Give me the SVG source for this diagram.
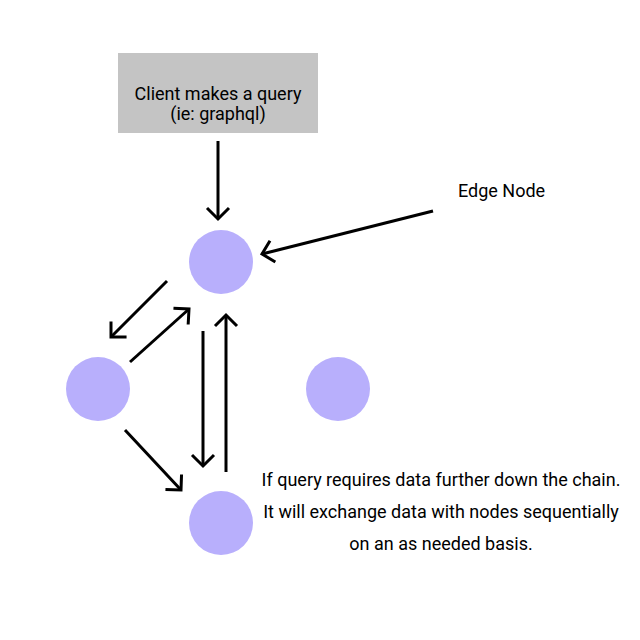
<svg xmlns="http://www.w3.org/2000/svg" width="640" height="640" viewBox="0 0 640 640">
<style>
.t{font-family:Roboto,"Liberation Sans",sans-serif;font-size:18px;fill:#000}
.n{fill:#b8affc}
.c line{stroke:#000;stroke-width:3;marker-end:url(#ah)}
</style>
<defs>
<marker id="ah" markerUnits="userSpaceOnUse" markerWidth="30" markerHeight="30" refX="15" refY="15" orient="auto">
<path d="M4,4 L15,15 L4,26" fill="none" stroke="#000" stroke-width="3"/>
</marker>
</defs>
<rect width="640" height="640" fill="#fff"/>
<g id="client">
<rect x="118" y="53" width="200" height="80" fill="#c4c4c4"/>
<text class="t" x="218" y="100" text-anchor="middle">Client makes a query</text>
<text class="t" x="218" y="120" text-anchor="middle">(ie: graphql)</text>
</g>
<g id="edge-label"><text class="t" x="458" y="197">Edge Node</text></g>
<g id="node-top"><circle class="n" cx="221" cy="262" r="32"/></g>
<g id="node-left"><circle class="n" cx="98" cy="389" r="32"/></g>
<g id="node-right"><circle class="n" cx="338" cy="389" r="32"/></g>
<g id="node-bottom"><circle class="n" cx="221" cy="523" r="32"/></g>
<g id="note">
<text class="t" x="441" y="486" text-anchor="middle">If query requires data further down the chain.</text>
<text class="t" x="441" y="518" text-anchor="middle">It will exchange data with nodes sequentially</text>
<text class="t" x="441" y="550" text-anchor="middle">on an as needed basis.</text>
</g>
<g class="c" id="connectors">
<line x1="218" y1="141" x2="218" y2="219"/>
<line x1="433" y1="211" x2="262" y2="254"/>
<line x1="167" y1="281" x2="111" y2="337"/>
<line x1="130" y1="362" x2="189" y2="309"/>
<line x1="203" y1="331" x2="203" y2="466"/>
<line x1="226" y1="472" x2="226" y2="315"/>
<line x1="125" y1="430" x2="181" y2="490"/>
</g>
</svg>
